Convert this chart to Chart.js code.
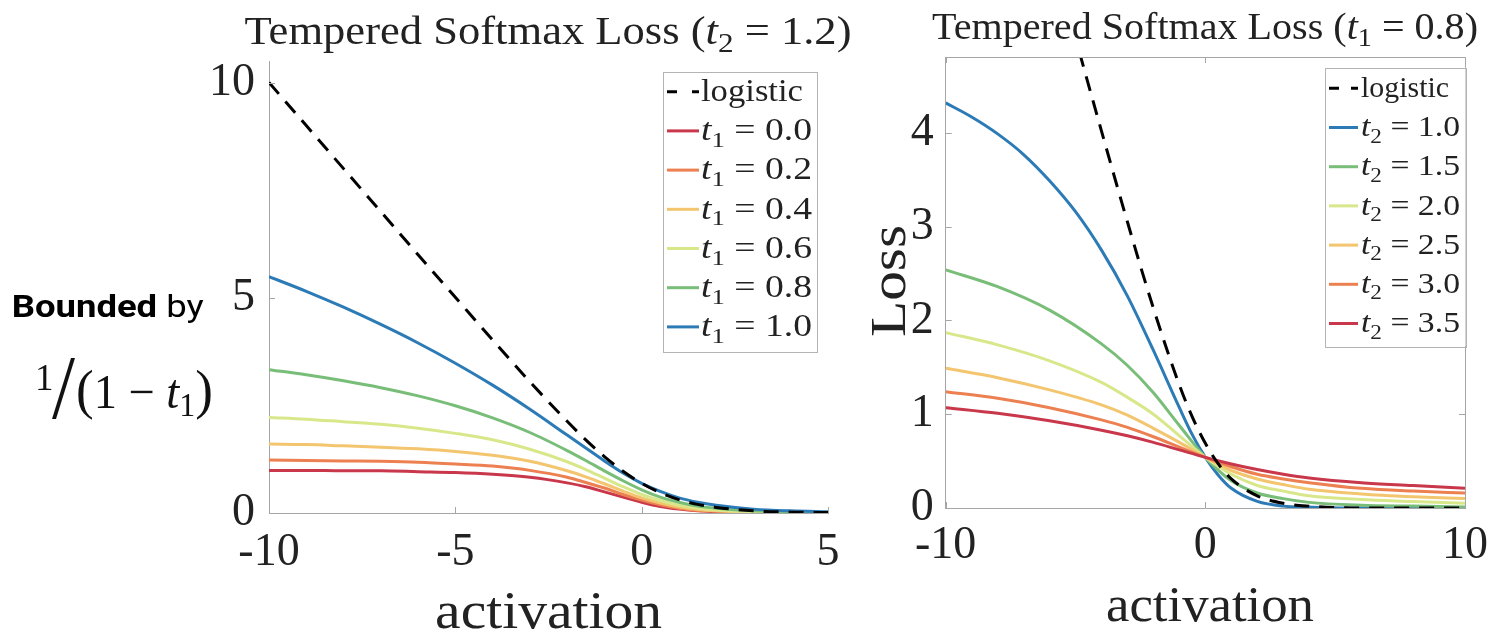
<!DOCTYPE html>
<html>
<head>
<meta charset="utf-8">
<script src="https://cdn.jsdelivr.net/npm/chart.js@4.4.1/dist/chart.umd.min.js"></script>
<style>
  html, body { margin: 0; padding: 0; background: #fff; }
  #wrap { position: relative; width: 1498px; height: 634px; overflow: hidden; }
  canvas { position: absolute; top: 0; }
  #left { left: 0; }
  #right { left: 850px; }
</style>
</head>
<body>
<div id="wrap">
  <canvas id="left" width="870" height="634"></canvas>
  <canvas id="right" width="648" height="634"></canvas>
</div>
<script>
// ---- left panel: tempered softmax loss, t2 = 1.2, t1 varies ----
const actLeft = [-10, -9, -8, -7, -6, -5, -4, -3, -2, -1.5, -1, -0.5, 0, 0.5, 1, 1.5, 2, 3, 4, 5];
const logisticLeft = [10.0, 9.0, 8.0, 7.0, 6.0, 5.01, 4.02, 3.05, 2.13, 1.70, 1.31, 0.97, 0.69, 0.47, 0.31, 0.20, 0.13, 0.05, 0.02, 0.01];
const lossT1_00 = [0.99, 0.99, 0.98, 0.98, 0.96, 0.94, 0.90, 0.83, 0.70, 0.61, 0.49, 0.37, 0.25, 0.15, 0.09, 0.05, 0.03, 0.01, 0.00, 0.00];
const lossT1_02 = [1.23, 1.22, 1.21, 1.20, 1.18, 1.14, 1.09, 0.99, 0.83, 0.71, 0.58, 0.43, 0.30, 0.19, 0.11, 0.06, 0.04, 0.01, 0.00, 0.00];
const lossT1_04 = [1.60, 1.59, 1.56, 1.53, 1.49, 1.43, 1.34, 1.20, 0.98, 0.84, 0.68, 0.51, 0.35, 0.23, 0.14, 0.08, 0.05, 0.02, 0.01, 0.00];
const lossT1_06 = [2.22, 2.18, 2.12, 2.06, 1.97, 1.85, 1.70, 1.48, 1.19, 1.01, 0.81, 0.61, 0.43, 0.29, 0.18, 0.11, 0.07, 0.03, 0.01, 0.01];
const lossT1_08 = [3.33, 3.21, 3.07, 2.91, 2.72, 2.49, 2.21, 1.87, 1.45, 1.22, 0.98, 0.75, 0.54, 0.37, 0.25, 0.16, 0.11, 0.05, 0.03, 0.01];
const lossT1_10 = [5.49, 5.15, 4.78, 4.38, 3.95, 3.48, 2.97, 2.41, 1.81, 1.51, 1.21, 0.93, 0.69, 0.50, 0.35, 0.25, 0.18, 0.09, 0.05, 0.03];
const t1Labels = ['0.0', '0.2', '0.4', '0.6', '0.8', '1.0'];
const xTicksLeft = [-10, -5, 0, 5];
const yTicksLeft = [0, 5, 10];

// ---- right panel: t1 = 0.8, t2 varies ----
const actRightFine = [-10, -9, -8, -7, -6, -5, -4, -3, -2, -1, -0.5, 0, 0.5, 1, 2, 3, 4, 6, 8, 10];
const logisticRight = [10.0, 9.0, 8.0, 7.0, 6.0, 5.01, 4.02, 3.05, 2.13, 1.31, 0.97, 0.69, 0.47, 0.31, 0.13, 0.05, 0.02, 0.00, 0.00, 0.00];
const lossT2_10 = [4.32, 4.17, 3.99, 3.77, 3.49, 3.16, 2.75, 2.26, 1.68, 1.07, 0.78, 0.54, 0.35, 0.21, 0.07, 0.02, 0.01, 0.00, 0.00, 0.00];
const actRight = [-10, -8, -6, -4, -3, -2, -1, 0, 1, 2, 3, 4, 6, 8, 10];
const lossT2_15 = [2.54, 2.36, 2.11, 1.75, 1.52, 1.23, 0.88, 0.54, 0.29, 0.16, 0.10, 0.06, 0.03, 0.02, 0.01];
const lossT2_20 = [1.87, 1.74, 1.57, 1.34, 1.18, 1.00, 0.77, 0.54, 0.36, 0.24, 0.18, 0.13, 0.09, 0.07, 0.05];
const lossT2_25 = [1.49, 1.39, 1.26, 1.10, 0.99, 0.85, 0.70, 0.54, 0.40, 0.31, 0.25, 0.20, 0.15, 0.12, 0.10];
const lossT2_30 = [1.24, 1.17, 1.07, 0.94, 0.86, 0.76, 0.65, 0.54, 0.44, 0.36, 0.31, 0.27, 0.21, 0.18, 0.16];
const lossT2_35 = [1.07, 1.01, 0.93, 0.83, 0.77, 0.70, 0.62, 0.54, 0.47, 0.41, 0.36, 0.32, 0.27, 0.24, 0.21];
const t2Labels = ['1.0', '1.5', '2.0', '2.5', '3.0', '3.5'];
const xTicksRight = [-10, 0, 10];
const yTicksRight = [0, 1, 2, 3, 4];

// colours (red -> blue)
const RED = '#c9374b', ORANGE = '#ec8050', YELLOW = '#f3c56f', LIME = '#d9e78b', GREEN = '#78bd78', BLUE = '#2c7bb6';
const leftColors = [RED, ORANGE, YELLOW, LIME, GREEN, BLUE];
const rightColors = [BLUE, GREEN, LIME, YELLOW, ORANGE, RED];

const SERIF = "'Liberation Serif', 'Times New Roman', serif";
const SANS = "Roboto, 'Liberation Sans', Arial, sans-serif";
const INK = '#222';
const AXIS = '#a6a6a6';
const DASH = [15, 10];
const rm = s => s + 'px ' + SERIF;
const it = s => 'italic ' + s + 'px ' + SERIF;

function pts(xs, ys) {
  return xs.map((x, i) => ({ x: x, y: ys[i] }));
}

function curve(xs, ys, color, order) {
  return {
    data: pts(xs, ys),
    borderColor: color,
    borderWidth: 3,
    pointRadius: 0,
    fill: false,
    cubicInterpolationMode: 'monotone',
    order: order
  };
}

function logisticCurve(xs, ys) {
  const d = curve(xs, ys, '#000', 0);
  d.borderDash = DASH;
  return d;
}

// draw a run of text pieces [text, font, dy], optionally squeezed to a width
function drawParts(ctx, parts, x, y, opt) {
  opt = opt || {};
  let w = 0;
  parts.forEach(p => { ctx.font = p[1]; w += ctx.measureText(p[0]).width; });
  const sx = opt.width ? opt.width / w : 1;
  ctx.save();
  ctx.fillStyle = opt.color || INK;
  ctx.textBaseline = 'alphabetic';
  ctx.textAlign = 'left';
  ctx.translate(x, y);
  if (opt.rotate) ctx.rotate(opt.rotate);
  ctx.scale(sx, opt.sy || 1);
  let cx = opt.align === 'center' ? -w / 2 : 0;
  parts.forEach(p => {
    ctx.font = p[1];
    ctx.fillText(p[0], cx, p[2] || 0);
    cx += ctx.measureText(p[0]).width;
  });
  ctx.restore();
}

function px(v) { return Math.round(v) + 0.5; }

function innerTicks(chart, sides, len) {
  const { ctx, chartArea: a, scales } = chart;
  ctx.save();
  ctx.strokeStyle = AXIS;
  ctx.lineWidth = 1;
  ctx.beginPath();
  scales.x.ticks.forEach(t => {
    const p = px(scales.x.getPixelForValue(t.value));
    if (sides.indexOf('b') >= 0) { ctx.moveTo(p, a.bottom); ctx.lineTo(p, a.bottom - len); }
    if (sides.indexOf('t') >= 0) { ctx.moveTo(p, a.top); ctx.lineTo(p, a.top + len); }
  });
  scales.y.ticks.forEach(t => {
    const p = px(scales.y.getPixelForValue(t.value));
    if (sides.indexOf('l') >= 0) { ctx.moveTo(a.left, p); ctx.lineTo(a.left + len, p); }
    if (sides.indexOf('r') >= 0) { ctx.moveTo(a.right, p); ctx.lineTo(a.right - len, p); }
  });
  ctx.stroke();
  ctx.restore();
}

function legendBox(ctx, box, rows, lg) {
  ctx.save();
  ctx.fillStyle = '#fff';
  ctx.fillRect(box[0], box[1], box[2], box[3]);
  ctx.strokeStyle = '#b4b4b4';
  ctx.lineWidth = 1;
  ctx.strokeRect(px(box[0]), px(box[1]), Math.round(box[2]), Math.round(box[3]));
  ctx.lineWidth = 3;
  // dashed logistic sample: two dashes
  const y0 = lg.top;
  ctx.strokeStyle = '#000';
  ctx.beginPath();
  ctx.moveTo(lg.x0, y0); ctx.lineTo(lg.x0 + 10, y0);
  ctx.moveTo(lg.x1 - 7, y0); ctx.lineTo(lg.x1, y0);
  ctx.stroke();
  drawParts(ctx, [['logistic', rm(lg.size)]], lg.tx, y0 + lg.size * 0.3, { width: lg.logW });
  rows.forEach((r, i) => {
    const y = lg.top + (i + 1) * lg.step;
    ctx.strokeStyle = r.color;
    ctx.beginPath();
    ctx.moveTo(lg.x0, y); ctx.lineTo(lg.x1, y);
    ctx.stroke();
    drawParts(ctx, [['t', it(lg.size)], [lg.sub, rm(Math.round(lg.size * 0.7)), lg.size * 0.22], [' = ' + r.label, rm(lg.size)]],
      lg.tx, y + lg.size * 0.3, { width: lg.rowW });
  });
  ctx.restore();
}

function axisOpts(min, max, tickVals, pad, fit, horiz) {
  return {
    type: 'linear',
    min: min,
    max: max,
    afterBuildTicks: s => { s.ticks = tickVals.map(v => ({ value: v })); },
    afterFit: s => { if (horiz) s.height = fit; else s.width = fit; },
    grid: { display: false, drawTicks: false },
    border: { display: true, color: AXIS, width: 1 },
    ticks: { font: { family: SERIF, size: 46 }, color: INK, padding: pad, callback: v => String(v) }
  };
}

function baseOptions(padding, scales) {
  return {
    responsive: false,
    animation: false,
    events: [],
    layout: { padding: padding },
    plugins: { legend: { display: false }, tooltip: { enabled: false }, title: { display: false } },
    scales: scales
  };
}

// ---------- left chart ----------
const leftSeries = [lossT1_00, lossT1_02, lossT1_04, lossT1_06, lossT1_08, lossT1_10];
const leftSets = [logisticCurve(actLeft, logisticLeft)];
leftSeries.forEach((s, i) => leftSets.push(curve(actLeft, s, leftColors[i], leftSeries.length - i)));

const leftDecor = {
  id: 'leftDecor',
  afterDraw(chart) {
    const ctx = chart.ctx;
    innerTicks(chart, 'bl', 6);
    drawParts(ctx, [['Tempered Softmax Loss (', rm(40)], ['t', it(40)], ['2', rm(28), 8], [' = 1.2)', rm(40)]],
      548, 44, { align: 'center', width: 607 });
    drawParts(ctx, [['activation', rm(52)]], 548.6, 628, { align: 'center', width: 227 });
    legendBox(ctx, [662.5, 71.5, 154, 280],
      t1Labels.map((l, i) => ({ label: l, color: leftColors[i] })),
      { top: 91.7, step: 39.2, x0: 667, x1: 699, tx: 701, size: 31, sub: '1', rowW: 111, logW: 102 });
    // side annotation
    drawParts(ctx, [['Bounded', 'bold 32px ' + SANS], [' by', '32px ' + SANS]], 11.7, 316.7, { width: 192, color: '#000' });
    drawParts(ctx, [['1', rm(37)]], 35, 390, { color: '#111' });
    drawParts(ctx, [['/', rm(52)]], 52, 418, { color: '#111', width: 23, sy: 1.75 });
    drawParts(ctx, [['(', rm(48)], ['1 \u2212 ', rm(42)], ['t', it(42)], ['1', rm(29), 7], [')', rm(48)]],
      76, 408, { width: 137, color: '#111', sy: 1.15 });
  }
};

new Chart(document.getElementById('left'), {
  type: 'line',
  data: { datasets: leftSets },
  options: baseOptions({ left: 0, top: 61, right: 42, bottom: 0 }, {
    x: axisOpts(-10, 5, xTicksLeft, 12, 121, true),
    y: axisOpts(0, 10.5, yTicksLeft, 14, 269, false)
  }),
  plugins: [leftDecor]
});

// ---------- right chart ----------
const RX = 850;
const rightSets = [logisticCurve(actRightFine, logisticRight), curve(actRightFine, lossT2_10, rightColors[0], 6)];
[lossT2_15, lossT2_20, lossT2_25, lossT2_30, lossT2_35].forEach((s, i) =>
  rightSets.push(curve(actRight, s, rightColors[i + 1], 5 - i)));

const rightDecor = {
  id: 'rightDecor',
  afterDraw(chart) {
    const ctx = chart.ctx;
    const a = chart.chartArea;
    ctx.save();
    ctx.strokeStyle = AXIS;
    ctx.lineWidth = 1;
    ctx.beginPath();
    ctx.moveTo(px(a.left), px(a.top)); ctx.lineTo(px(a.right), px(a.top)); ctx.lineTo(px(a.right), px(a.bottom));
    ctx.stroke();
    ctx.restore();
    innerTicks(chart, 'bltr', 6);
    drawParts(ctx, [['Tempered Softmax Loss (', rm(37)], ['t', it(37)], ['1', rm(26), 7], [' = 0.8)', rm(37)]],
      1205 - RX, 39, { align: 'center', width: 546 });
    drawParts(ctx, [['activation', rm(50)]], 1210 - RX, 621, { align: 'center', width: 208 });
    drawParts(ctx, [['Loss', rm(50)]], 905 - RX, 281, { align: 'center', width: 112, rotate: -Math.PI / 2 });
    legendBox(ctx, [1325 - RX, 67.5, 140.5, 278.5],
      t2Labels.map((l, i) => ({ label: l, color: rightColors[i] })),
      { top: 88.3, step: 39.2, x0: 1329 - RX, x1: 1358 - RX, tx: 1361 - RX, size: 29, sub: '2', rowW: 99, logW: 88 });
  }
};

new Chart(document.getElementById('right'), {
  type: 'line',
  data: { datasets: rightSets },
  options: baseOptions({ left: 0, top: 57, right: 648 - (1474 - RX), bottom: 0 }, {
    x: axisOpts(-10, 10, xTicksRight, 10, 126, true),
    y: axisOpts(0, 4.81, yTicksRight, 12, 945.7 - RX, false)
  }),
  plugins: [rightDecor]
});
</script>
</body>
</html>
